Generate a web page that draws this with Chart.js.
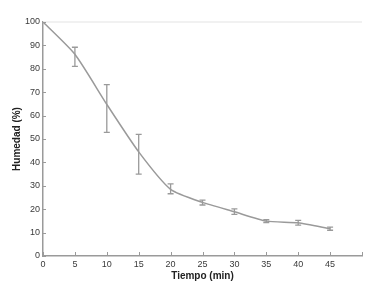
<!DOCTYPE html>
<html><head><meta charset="utf-8">
<script src="https://cdn.jsdelivr.net/npm/chart.js@4"></script>
<style>html,body{margin:0;padding:0;background:#fff}#w{width:371px;height:290px}</style>
</head><body><div id="w"><canvas id="c"></canvas></div>
<script>
const tiempo = [0, 5, 10, 15, 20, 25, 30, 35, 40, 45];
const humedad = [100, 86.2, 64.8, 44.5, 28.5, 22.9, 18.9, 14.9, 14.2, 11.6];
const errLow = [100, 81.0, 52.8, 35.0, 26.6, 21.8, 17.8, 14.3, 13.2, 11.0];
const errHigh = [100, 89.2, 73.2, 52.0, 30.8, 23.9, 20.1, 15.5, 15.2, 12.3];
const xTicks = [0, 5, 10, 15, 20, 25, 30, 35, 40, 45];
const yTicks = [0, 10, 20, 30, 40, 50, 60, 70, 80, 90, 100];

const grey = '#9a9a9a';
const extras = {
  id: 'extras',
  afterDatasetsDraw(chart) {
    const ctx = chart.ctx, xs = chart.scales.x, ys = chart.scales.y, a = chart.chartArea;
    ctx.save();
    ctx.strokeStyle = '#ececec'; ctx.lineWidth = 1.5;
    ctx.beginPath(); ctx.moveTo(a.left, a.top); ctx.lineTo(a.right, a.top); ctx.stroke();
    ctx.strokeStyle = grey; ctx.lineWidth = 1;
    ctx.beginPath();
    for (let v = 0; v <= 50; v += 5) { const px = Math.round(xs.getPixelForValue(v)) + 0.5; ctx.moveTo(px, a.bottom); ctx.lineTo(px, a.bottom - 4); }
    for (const v of yTicks) { const py = Math.round(ys.getPixelForValue(v)) + 0.5; ctx.moveTo(a.left, py); ctx.lineTo(a.left + 3, py); }
    ctx.stroke();
    ctx.strokeStyle = grey; ctx.lineWidth = 1.3;
    ctx.beginPath();
    for (let i = 0; i < tiempo.length; i++) {
      if (errHigh[i] === errLow[i]) continue;
      const px = xs.getPixelForValue(tiempo[i]);
      const pl = ys.getPixelForValue(errLow[i]), ph = ys.getPixelForValue(errHigh[i]);
      ctx.moveTo(px, pl); ctx.lineTo(px, ph);
      ctx.moveTo(px - 3, pl); ctx.lineTo(px + 3, pl);
      ctx.moveTo(px - 3, ph); ctx.lineTo(px + 3, ph);
    }
    ctx.stroke();
    ctx.restore();
  }
};

new Chart(document.getElementById('c'), {
  type: 'line',
  data: {
    datasets: [{
      data: tiempo.map((t, i) => ({x: t, y: humedad[i]})),
      borderColor: grey, borderWidth: 1.5, pointRadius: 0,
      tension: 0.2, fill: false
    }]
  },
  options: {
    responsive: true, maintainAspectRatio: false, animation: false,
    layout: {padding: {left: 0, top: 22, right: 9, bottom: 0}},
    plugins: {legend: {display: false}, tooltip: {enabled: false}},
    scales: {
      x: {
        type: 'linear', min: 0, max: 50,
        afterFit(s) { s.height = 34; },
        afterBuildTicks(s) { s.ticks = xTicks.map(v => ({value: v})); },
        grid: {color: 'transparent', drawTicks: false},
        border: {color: grey, width: 1.5},
        ticks: {padding: 3, color: '#3a3a3a', font: {family: 'Liberation Sans', size: 9}, maxRotation: 0, autoSkip: false},
        title: {display: true, text: 'Tiempo (min)', color: '#222', font: {family: 'Liberation Sans', size: 10, weight: 'bold'}, padding: {top: 0, bottom: 8}}
      },
      y: {
        min: 0, max: 100,
        afterFit(s) { s.width = 43; },
        afterBuildTicks(s) { s.ticks = yTicks.map(v => ({value: v})); },
        grid: {color: 'transparent', drawTicks: false},
        border: {color: grey, width: 1.5},
        ticks: {padding: 3, color: '#3a3a3a', font: {family: 'Liberation Sans', size: 9}},
        title: {display: true, text: 'Humedad (%)', color: '#222', font: {family: 'Liberation Sans', size: 10, weight: 'bold'}, padding: {top: 11, bottom: 0}}
      }
    }
  },
  plugins: [extras]
});
</script></body></html>
